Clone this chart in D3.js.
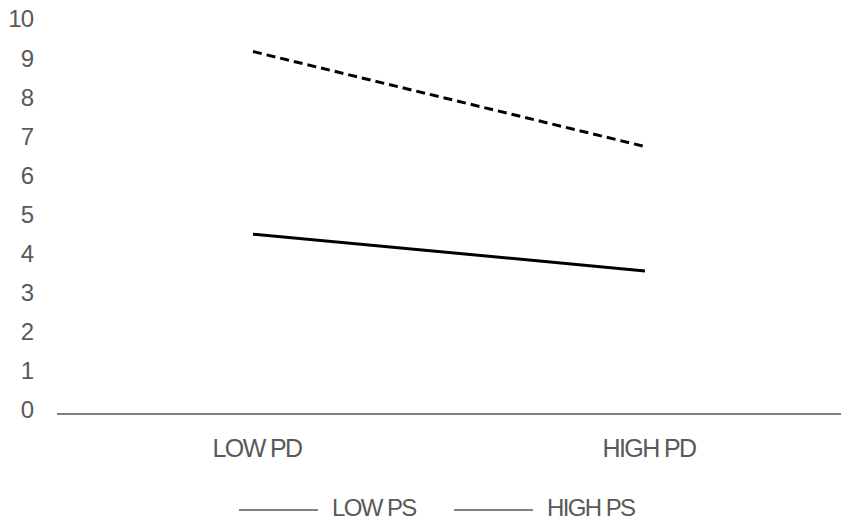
<!DOCTYPE html>
<html>
<head>
<meta charset="utf-8">
<script src="https://cdn.jsdelivr.net/npm/d3@7"></script>
<style>
  body { margin: 0; background: #fff; }
  text { font-family: "Liberation Sans", Arial, sans-serif; fill: #595959; }
</style>
</head>
<body>
<svg id="chart" width="851" height="530"></svg>
<script>
let categories = ["LOW PD", "HIGH PD"],
  seriesNames = ["LOW PS", "HIGH PS"],
  lowPS = [9.27, 6.84],
  highPS = [4.6, 3.66],
  yTicks = [0, 1, 2, 3, 4, 5, 6, 7, 8, 9, 10];

let width = 851,
  height = 530,
  margins = {left: 57, right: 10, top: 23, bottom: 116};

let svg = d3.select("#chart");

let x = d3.scalePoint()
  .domain(categories)
  .range([margins.left, width - margins.right])
  .padding(0.5);

let y = d3.scaleLinear()
  .domain([0, 10])
  .range([height - margins.bottom, margins.top]);

// y tick labels only (no axis line)
svg.append("g")
  .selectAll("text")
  .data(yTicks).enter()
  .append("text")
  .attr("x", 33)
  .attr("y", d => y(d) - 4)
  .attr("dy", "0.35em")
  .attr("text-anchor", "end")
  .style("font-size", "24px")
  .style("letter-spacing", "-1px")
  .text(d => d);

// horizontal axis
svg.append("line")
  .attr("x1", margins.left)
  .attr("x2", width - margins.right)
  .attr("y1", y(0))
  .attr("y2", y(0))
  .attr("stroke", "#7f7f7f")
  .attr("stroke-width", 1.8);

svg.append("g")
  .selectAll("text")
  .data(categories).enter()
  .append("text")
  .attr("x", d => x(d) + 4)
  .attr("y", 448)
  .attr("dy", "0.35em")
  .attr("text-anchor", "middle")
  .style("font-size", "25px")
  .style("letter-spacing", "-1.6px")
  .text(d => d);

let line = d3.line()
  .x((d, i) => x(categories[i]))
  .y(d => y(d));

svg.append("path")
  .datum(lowPS)
  .attr("d", line)
  .attr("fill", "none")
  .attr("stroke", "#000")
  .attr("stroke-width", 3)
  .attr("stroke-dasharray", "9,5");

svg.append("path")
  .datum(highPS)
  .attr("d", line)
  .attr("fill", "none")
  .attr("stroke", "#000")
  .attr("stroke-width", 3);

// legend
let legendX = [239, 454];
let legend = svg.append("g")
  .selectAll("g")
  .data(seriesNames).enter()
  .append("g")
  .attr("transform", (d, i) => `translate(${legendX[i]}, 510)`);

legend.append("line")
  .attr("x1", 0)
  .attr("x2", 79)
  .attr("stroke", "#595959")
  .attr("stroke-width", 1.5);

legend.append("text")
  .attr("x", 93)
  .attr("y", -2)
  .attr("dy", "0.35em")
  .style("font-size", "24px")
  .style("letter-spacing", "-1.6px")
  .text(d => d);
</script>
</body>
</html>
